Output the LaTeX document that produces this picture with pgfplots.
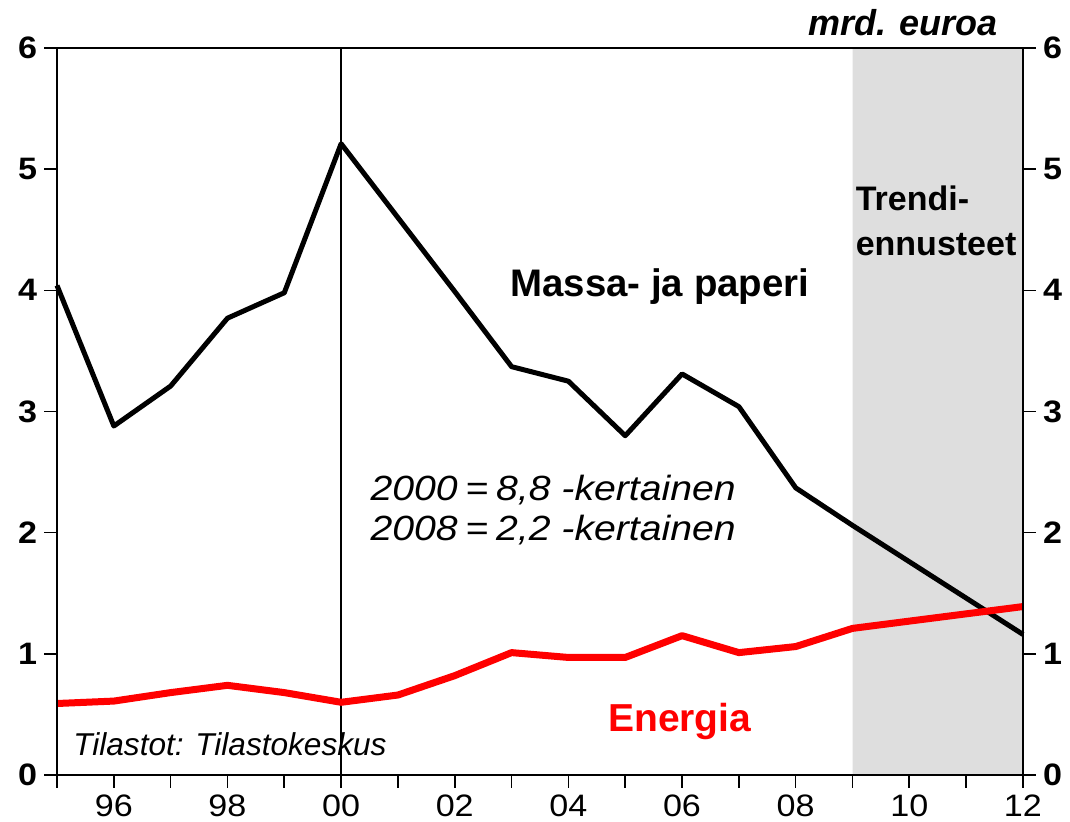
\documentclass[border=0pt]{standalone}
\usepackage{fontspec}
\setmainfont{Liberation Sans}
\newfontfamily\wide[FakeStretch=1.1]{Liberation Sans}
\newfontfamily\wider[FakeStretch=1.12]{Liberation Sans}
\usepackage{pgfplots}
\pgfplotsset{compat=1.18}
\definecolor{shade}{RGB}{222,222,222}
\definecolor{myred}{RGB}{255,0,0}

\begin{document}
\begin{tikzpicture}
\begin{axis}[
  at={(0,0)}, anchor=south west,
  scale only axis, width=483pt, height=363.5pt,
  xmin=1995, xmax=2012, ymin=0, ymax=6,
  axis on top=true,
  axis line style={line width=1.2pt},
  xtick={1995,...,2012},
  xticklabels={,96,,98,,00,,02,,04,,06,,08,,10,,12},
  ytick={0,...,6},
  xtick pos=bottom, ytick pos=left,
  tick align=outside,
  major tick length=6.5pt,
  tick style={line width=0.8pt, black},
  xticklabel style={font=\wide\fontsize{15.5}{15.5}\selectfont},
  yticklabel style={font=\wide\bfseries\fontsize{15.5}{15.5}\selectfont},
  /pgf/number format/assume math mode=true,
  clip=false,
]
\addplot[fill=shade, draw=none] coordinates {(2009,0) (2009,6) (2012,6) (2012,0)} \closedcycle;
\addplot[black, line width=0.9pt] coordinates {(2000,0) (2000,6)};
\addplot[black, line width=2.5pt, line join=round] coordinates {
(1995,4.04) (1996,2.88) (1997,3.21) (1998,3.77) (1999,3.98) (2000,5.21)
(2001,4.60) (2002,3.99) (2003,3.37) (2004,3.25) (2005,2.80) (2006,3.31)
(2007,3.04) (2008,2.37) (2009,2.06) (2010,1.76) (2011,1.46) (2012,1.16)};
\addplot[myred, line width=3.5pt, line join=round] coordinates {
(1995,0.59) (1996,0.61) (1997,0.68) (1998,0.74) (1999,0.68) (2000,0.60)
(2001,0.66) (2002,0.82) (2003,1.01) (2004,0.97) (2005,0.97) (2006,1.15)
(2007,1.01) (2008,1.06) (2009,1.21) (2010,1.27) (2011,1.33) (2012,1.39)};
\node[font=\bfseries\fontsize{19.2}{19.2}\selectfont] at (axis cs:2005.61,4.03) {Massa- ja paperi};
\node[font=\bfseries\fontsize{19.5}{19.5}\selectfont, text=myred] at (axis cs:2005.96,0.44) {Energia};
\node[anchor=west, inner sep=0pt, font=\bfseries\fontsize{17}{17}\selectfont] at (axis cs:2009.05,4.76) {Trendi-};
\node[anchor=west, inner sep=0pt, font=\bfseries\fontsize{17}{17}\selectfont] at (axis cs:2009.05,4.38) {ennusteet};
\node[anchor=east, inner sep=0pt, font=\bfseries\itshape\fontsize{18}{18}\selectfont] at (axis cs:2011.56,6.21) {mrd. euroa};
\node[anchor=west, inner sep=0pt, font=\wider\itshape\fontsize{17.5}{17.5}\selectfont] at (axis cs:2000.51,2.35) {2000\:=\:8,8 -kertainen};
\node[anchor=west, inner sep=0pt, font=\wider\itshape\fontsize{17.5}{17.5}\selectfont] at (axis cs:2000.51,2.02) {2008\:=\:2,2 -kertainen};
\node[anchor=west, inner sep=0pt, font=\itshape\fontsize{15.8}{15.8}\selectfont] at (axis cs:1995.28,0.25) {Tilastot: Tilastokeskus};
\end{axis}
\begin{axis}[
  at={(0,0)}, anchor=south west,
  scale only axis, width=483pt, height=363.5pt,
  xmin=1995, xmax=2012, ymin=0, ymax=6,
  axis line style={draw=none},
  xtick=\empty,
  ytick={0,...,6},
  ytick pos=right, yticklabel pos=right,
  tick align=outside,
  major tick length=6.5pt,
  tick style={line width=0.8pt, black},
  yticklabel style={font=\wide\bfseries\fontsize{15.5}{15.5}\selectfont},
  /pgf/number format/assume math mode=true,
]
\end{axis}
\pgfresetboundingbox
\path[use as bounding box] (-28.5pt,-23.5pt) rectangle (506.5pt,387.5pt);
\end{tikzpicture}
\end{document}
